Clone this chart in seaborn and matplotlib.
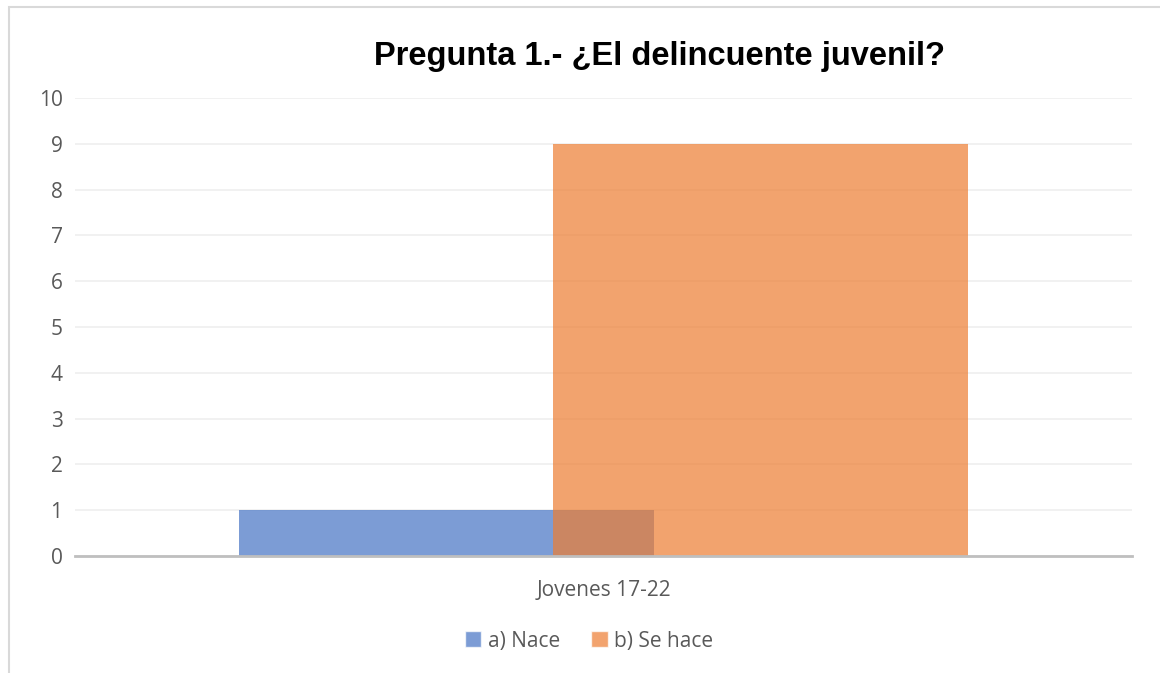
import pandas as pd
import matplotlib
matplotlib.use("Agg")
import matplotlib.pyplot as plt
import seaborn as sns
from matplotlib.patches import Rectangle

# datos de la gráfica
categorias = ["Jovenes 17-22"]
series = ["a) Nace", "b) Se hace"]
valores_nace = [1]
valores_se_hace = [9]
ticks_y = [0, 1, 2, 3, 4, 5, 6, 7, 8, 9, 10]

df = pd.DataFrame({
    "Categoria": categorias * 2,
    "Serie": [series[0]] * len(valores_nace) + [series[1]] * len(valores_se_hace),
    "Valor": valores_nace + valores_se_hace,
})

sns.set_theme(style="white")
plt.rcParams["font.family"] = ["Open Sans", "DejaVu Sans"]

colores = ["#4472C4", "#ED7D31"]
gris = "#595959"

fig = plt.figure(figsize=(11.6, 6.73), dpi=100)
ax = fig.add_axes([75 / 1160, 117 / 673, 1057 / 1160, 458 / 673])

sns.barplot(data=df, x="Categoria", y="Valor", hue="Serie", palette=colores,
            width=0.594, dodge=True, alpha=0.7, saturation=1, ax=ax, legend=True)

# barras superpuestas como en Excel (solapamiento)
ancho = 0.393
for p in ax.patches:
    if p.get_height() == 0 and p.get_width() == 0:
        continue
    c = p.get_x() + p.get_width() / 2
    p.set_width(ancho)
    p.set_x(c - ancho / 2)
    p.set_linewidth(0)

ax.set_xlim(-0.5, 0.5)
ax.set_ylim(0, 10)
ax.set_yticks(ticks_y)
ax.grid(axis="y", color="#EFEFEF", linewidth=1.2)
ax.set_axisbelow(True)
for s in ["left", "right", "top"]:
    ax.spines[s].set_visible(False)
ax.spines["bottom"].set_color("#BFBFBF")
ax.spines["bottom"].set_linewidth(2)
ax.tick_params(axis="both", length=0, labelsize=15, colors=gris)
ax.tick_params(axis="y", pad=9)
ax.tick_params(axis="x", pad=17)
ax.set_xlabel("")
ax.set_ylabel("")

fig.text(659 / 1160, 1 - 57 / 673, "Pregunta 1.- ¿El delincuente juvenil?",
         ha="center", va="center", fontsize=23.5, fontweight="bold",
         family=["Liberation Sans", "DejaVu Sans"], color="black")

leg = ax.legend(loc="center", bbox_to_anchor=(589 / 1160, 1 - 641 / 673),
                bbox_transform=fig.transFigure, ncol=2, frameon=False,
                fontsize=15, handlelength=0.8, handleheight=0.8,
                handletextpad=0.3, columnspacing=1.5)
for t in leg.get_texts():
    t.set_color(gris)

# marco exterior del gráfico
fig.patches.append(Rectangle((9 / 1160, -0.1), 1.2, 1 - 7 / 673 + 0.1,
                             transform=fig.transFigure, fill=False,
                             edgecolor="#D9D9D9", linewidth=1.5))

fig.savefig("out.png", dpi=100)
